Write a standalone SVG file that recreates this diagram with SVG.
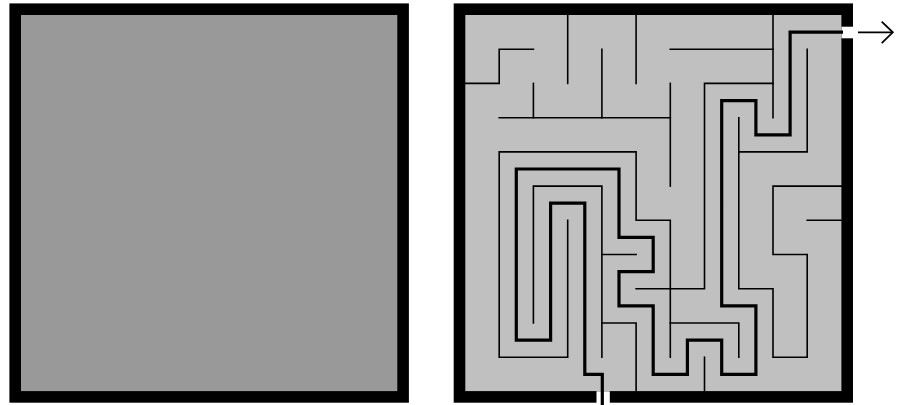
<svg xmlns="http://www.w3.org/2000/svg" width="905" height="405" viewBox="0 0 905 405">
<style>
.frame{stroke:#000;stroke-width:11.6}
.wall{fill:none;stroke:#000;stroke-width:1.6;stroke-linecap:square;stroke-linejoin:miter}
.route{fill:none;stroke:#000;stroke-width:3.2;stroke-linecap:butt;stroke-linejoin:miter}
.gap{fill:#fff}
.arrow{fill:none;stroke:#000;stroke-width:1.8}
</style>
<rect width="905" height="405" fill="#fff"/>
<g id="blank-maze">
<rect class="frame" x="15.2" y="9.2" width="387.9" height="387.7" fill="#999999"/>
</g>
<g id="solved-maze">
<rect class="frame" x="459.5" y="9.2" width="387.7" height="387.7" fill="#c0c0c0"/>
<rect class="gap" x="596.5" y="391.3" width="13.3" height="13.7"/>
<rect class="gap" x="841.5" y="26.7" width="12.5" height="11.6"/>
</g>
<g id="walls">
<path class="wall" d="M567.7,15 V83.4"/>
<path class="wall" d="M636.1,15 V83.4"/>
<path class="wall" d="M465,83.4 H499.2 V49.2 H533.4"/>
<path class="wall" d="M601.9,49.2 V117.7"/>
<path class="wall" d="M533.4,83.4 V117.7"/>
<path class="wall" d="M499.2,117.7 H670.3"/>
<path class="wall" d="M670.3,83.4 V186.1"/>
<path class="wall" d="M670.3,49.2 H773"/>
<path class="wall" d="M773,15 V117.7"/>
<path class="wall" d="M773,83.4 H704.5 V288.8 H636.1"/>
<path class="wall" d="M807.2,49.2 V151.9 H738.8"/>
<path class="wall" d="M738.8,117.7 V288.8 H773 V357.2 H807.2 V254.5 H773 V186.1 H841.4"/>
<path class="wall" d="M807.2,220.3 H841.4"/>
<path class="wall" d="M567.7,220.3 V357.2 H499.2 V151.9 H636.1 V220.3 H670.3 V357.2"/>
<path class="wall" d="M533.4,323 V186.1 H601.9 V357.2"/>
<path class="wall" d="M601.9,254.5 H636.1"/>
<path class="wall" d="M601.9,323 H636.1 V391.4"/>
<path class="wall" d="M670.3,323 H738.8 V357.2"/>
<path class="wall" d="M704.5,357.2 V391.4"/>
</g>
<g id="connectors">
<path class="route" d="M602.3,405 V374.3 H584.8 V203.2 H550.6 V340.1 H516.3 V169 H619 V237.4 H653.2 V271.7 H619 V305.9 H653.2 V374.3 H687.4 V340.1 H721.7 V374.3 H755.9 V305.9 H721.7 V100.6 H755.9 V134.8 H790.1 V32.1 H843"/>
<g id="exit-arrow">
<line class="arrow" x1="858" y1="32.3" x2="892.5" y2="32.3"/>
<polyline class="arrow" points="881.7,21.6 892.8,32.3 881.7,43.1"/>
</g>
</g>
</svg>
